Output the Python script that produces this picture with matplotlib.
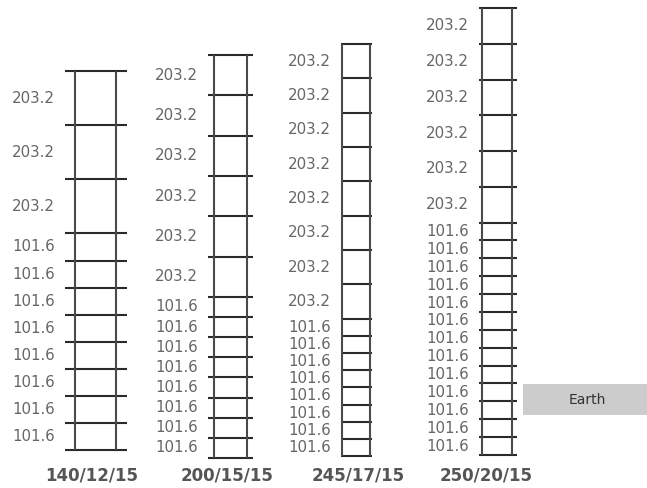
import matplotlib.pyplot as plt
from matplotlib.patches import Rectangle

# ladder sections, top to bottom (mm)
names = ['140/12/15', '200/15/15', '245/17/15', '250/20/15']
segments = [
    [203.2] * 3 + [101.6] * 8,
    [203.2] * 6 + [101.6] * 8,
    [203.2] * 8 + [101.6] * 8,
    [203.2] * 6 + [101.6] * 13,
]
earth_label = 'Earth'

W, H = 647, 488
fig = plt.figure(figsize=(W / 100, H / 100), dpi=100)

# pixel geometry: rung left, rail left, rail right, rung right, top, bottom
geom = [
    (65, 75, 116, 127, 71, 450),
    (208, 214, 247, 253, 55, 458),
    (341, 342, 370, 372, 44, 456),
    (479, 482, 512, 517, 8, 455),
]
name_x = [92, 227, 358, 486]
txt_col = '#666666'
line_col = '#2a2a2a'

for segs, name, g, nx in zip(segments, names, geom, name_x):
    x0, r0, r1, x1, top, bot = g
    ax = fig.add_axes([x0 / W, 1 - bot / H, (x1 - x0) / W, (bot - top) / H])
    ax.set_xlim(x0, x1)
    total = sum(segs)
    ax.set_ylim(0, total)
    ax.axis('off')

    # rungs, from the top down
    pos = [total]
    for s in segs:
        pos.append(pos[-1] - s)
    ax.hlines(pos, x0, x1, color=line_col, lw=1.5, clip_on=False)
    ax.vlines([r0, r1], 0, total, color='#4a4a4a', lw=1.5, clip_on=False)

    for i, s in enumerate(segs):
        mid = (pos[i] + pos[i + 1]) / 2
        ax.text(x0 - 10, mid, f'{s:.1f}', ha='right', va='center',
                fontsize=10.8, color=txt_col)

    fig.text(nx / W, 1 - 475 / H, name, ha='center', va='center',
             fontsize=12, fontweight='bold', color='#555555')

# earth marker
fig.patches.append(Rectangle((523 / W, 1 - 415 / H), (W - 523) / W, 31 / H,
                             transform=fig.transFigure, facecolor='#cccccc',
                             edgecolor='none'))
fig.text(587 / W, 1 - 400 / H, earth_label, ha='center', va='center',
         fontsize=10, color='#333333')

plt.savefig('out.png', dpi=100)
